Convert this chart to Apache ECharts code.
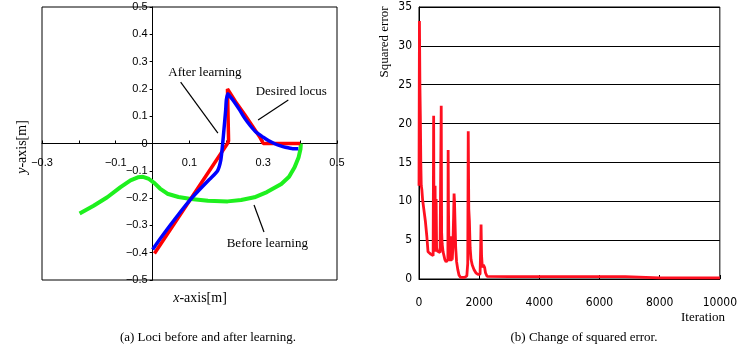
<!DOCTYPE html>
<html>
<head>
<meta charset="utf-8">
<script src="https://cdn.jsdelivr.net/npm/echarts@6/dist/echarts.min.js"></script>
<style>
html,body{margin:0;padding:0;background:#fff;}
#c{width:740px;height:351px;}
</style>
</head>
<body>
<div id="c"></div>
<script>
// ---- Left chart: loci (x, y in metres) ----
const desiredX = [0.005, 0.203, 0.206, 0.203, 0.225, 0.25, 0.275, 0.29, 0.3, 0.4];
const desiredY = [-0.403, 0, 0.01, 0.2, 0.153, 0.105, 0.055, 0.025, 0, 0];

const afterX = [0, 0.02, 0.044, 0.07, 0.104, 0.13, 0.155, 0.176, 0.185, 0.19, 0.194, 0.198, 0.2, 0.204, 0.21, 0.22, 0.235, 0.25, 0.265, 0.28, 0.3, 0.315, 0.33, 0.345, 0.36, 0.38, 0.395];
const afterY = [-0.388, -0.35, -0.306, -0.26, -0.203, -0.165, -0.13, -0.1, -0.06, 0, 0.06, 0.12, 0.16, 0.182, 0.172, 0.155, 0.125, 0.092, 0.065, 0.042, 0.023, 0.01, 0, -0.008, -0.014, -0.019, -0.019];

const beforeX = [-0.198, -0.16, -0.123, -0.087, -0.06, -0.04, -0.026, -0.01, 0.005, 0.02, 0.04, 0.07, 0.104, 0.15, 0.2035, 0.24, 0.276, 0.31, 0.349, 0.37, 0.385, 0.396, 0.401, 0.402];
const beforeY = [-0.256, -0.228, -0.197, -0.16, -0.135, -0.124, -0.122, -0.13, -0.145, -0.165, -0.184, -0.196, -0.203, -0.21, -0.212, -0.207, -0.197, -0.178, -0.148, -0.122, -0.087, -0.05, -0.02, 0];

const leftXTicks = [-0.3, -0.1, 0.1, 0.3, 0.5];

// annotation texts and arrows (data coordinates)
const noteTexts = ['After learning', 'Desired locus', 'Before learning'];
const noteTextPos = [[0.142, 0.258], [0.376, 0.192], [0.311, -0.368]];
const noteArrowFrom = [[0.076, 0.225], [0.368, 0.159], [0.302, -0.324]];
const noteArrowTo = [[0.177, 0.038], [0.286, 0.086], [0.275, -0.225]];

// ---- Right chart: squared error vs iteration ----
const iterations = [0, 15, 30, 45, 60, 75, 95, 120, 160, 210, 260, 300, 340, 390, 440, 470, 487, 497, 515, 535, 548, 570, 585, 610, 650, 700, 720, 739, 752, 770, 800, 830, 860, 900, 940, 960, 969, 980, 1000, 1025, 1050, 1070, 1090, 1105, 1125, 1150, 1166, 1180, 1200, 1220, 1250, 1290, 1330, 1385, 1450, 1520, 1590, 1620, 1637, 1655, 1675, 1700, 1730, 1770, 1830, 1890, 1960, 2030, 2050, 2063, 2080, 2105, 2140, 2180, 2210, 2260, 2293, 3000, 4000, 5000, 6000, 6850, 6870, 8000, 10000];
const sqError = [12, 33.2, 25, 21, 15, 12, 11.5, 10.2, 9, 7.5, 5.5, 3.5, 3.3, 3.2, 3.0, 3.0, 21, 8, 4, 12, 3.5, 10.3, 4, 3.6, 3.5, 3.4, 3.5, 22.3, 6, 4.5, 3.5, 3.0, 2.5, 2.2, 2.0, 2.5, 16.6, 9, 3, 2.3, 5.5, 2.3, 5.5, 2.5, 4, 8, 11, 10, 7, 4, 2.2, 1.2, 0.5, 0.2, 0.15, 0.2, 0.4, 2, 19, 9, 7.5, 4, 2.5, 1.8, 1.2, 0.8, 0.6, 0.6, 4, 7, 3, 1.5, 1.8, 1.5, 0.8, 0.35, 0.3, 0.3, 0.3, 0.3, 0.3, 0.3, 0.15, 0.15, 0.15];

const SERIF = '"Liberation Serif", "Times New Roman", serif';
const SANS = '"Liberation Sans", Arial, sans-serif';
const NARROW = '"DejaVu Sans Condensed", "Liberation Sans Narrow", "Arial Narrow", sans-serif';

const zip = (a, b) => a.map((v, i) => [v, b[i]]);
const fmtMinus = v => {
  const r = Math.round(v * 10) / 10;
  if (r === 0) return '0';
  return (r < 0 ? '\u2212' : '') + Math.abs(r).toFixed(1);
};

// left grid geometry
const LG = {left: 42, top: 7, width: 295, height: 273};
const LX = [-0.3, 0.5], LY = [-0.5, 0.5];
const xZeroOffset = -(LG.height * (0 - LY[0]) / (LY[1] - LY[0]));   // move x-axis up to y = 0
const yZeroOffset = -(LG.width * (0 - LX[0]) / (LX[1] - LX[0]));    // move y-axis right to x = 0

const chart = echarts.init(document.getElementById('c'), null, {renderer: 'canvas'});

const option = {
  backgroundColor: '#fff',
  animation: false,
  grid: [
    {left: LG.left, top: LG.top, width: LG.width, height: LG.height, show: true, borderColor: '#000', borderWidth: 1, backgroundColor: 'transparent'},
    {left: 419, top: 7, width: 305, height: 272, show: true, borderColor: '#000', borderWidth: 1, backgroundColor: 'transparent'}
  ],
  xAxis: [
    {
      type: 'value', gridIndex: 0, min: LX[0], max: LX[1], interval: 0.1,
      position: 'bottom', offset: xZeroOffset,
      axisLine: {onZero: false, lineStyle: {color: '#000', width: 1}},
      axisTick: {show: true, inside: true, length: 3, lineStyle: {color: '#000'}},
      splitLine: {show: false},
      axisLabel: {
        color: '#000', fontFamily: SANS, fontSize: 11, margin: 14,
        formatter: v => leftXTicks.some(t => Math.abs(t - v) < 1e-6) ? fmtMinus(v) : ''
      }
    },
    {
      type: 'value', gridIndex: 1, min: 0, max: 10000, interval: 2000,
      axisLine: {lineStyle: {color: '#000', width: 1}},
      axisTick: {show: true, inside: true, length: 4, lineStyle: {color: '#000'}},
      splitLine: {show: false},
      axisLabel: {color: '#000', fontFamily: NARROW, fontSize: 12, margin: 18, formatter: v => String(v)}
    }
  ],
  yAxis: [
    {
      type: 'value', gridIndex: 0, min: LY[0], max: LY[1], interval: 0.1,
      position: 'left', offset: yZeroOffset,
      axisLine: {onZero: false, lineStyle: {color: '#000', width: 1}},
      axisTick: {show: true, inside: false, length: 3, lineStyle: {color: '#000'}},
      splitLine: {show: false},
      axisLabel: {color: '#000', fontFamily: SANS, fontSize: 11, margin: 5, formatter: fmtMinus}
    },
    {
      type: 'value', gridIndex: 1, min: 0, max: 35, interval: 5,
      axisLine: {show: true, lineStyle: {color: '#000', width: 1}},
      axisTick: {show: false},
      splitLine: {show: true, lineStyle: {color: '#000', width: 1}},
      axisLabel: {color: '#000', fontFamily: NARROW, fontSize: 12, margin: 7, formatter: v => String(v)}
    }
  ],
  series: [
    {
      name: 'Before learning', type: 'line', xAxisIndex: 0, yAxisIndex: 0,
      data: zip(beforeX, beforeY), symbol: 'none', smooth: false,
      lineStyle: {color: '#1ef01e', width: 4}, z: 2
    },
    {
      name: 'Desired locus', type: 'line', xAxisIndex: 0, yAxisIndex: 0,
      data: zip(desiredX, desiredY), symbol: 'none',
      lineStyle: {color: '#ff0000', width: 3.5}, z: 3
    },
    {
      name: 'After learning', type: 'line', xAxisIndex: 0, yAxisIndex: 0,
      data: zip(afterX, afterY), symbol: 'none', smooth: 0.2,
      lineStyle: {color: '#0000ff', width: 3.5}, z: 4,
      markLine: {
        silent: true, animation: false,
        symbol: ['none', 'arrow'], symbolSize: [0, 9],
        lineStyle: {color: '#000', width: 1.2, type: 'solid'},
        label: {show: false},
        data: noteArrowFrom.map((f, i) => [{coord: f}, {coord: noteArrowTo[i]}])
      },
      markPoint: {
        silent: true, animation: false,
        symbol: 'circle', symbolSize: 1,
        itemStyle: {color: 'rgba(0,0,0,0)'},
        label: {show: true, position: 'inside', color: '#000', fontFamily: SERIF, fontSize: 13, formatter: p => p.name},
        data: noteTexts.map((t, i) => ({name: t, coord: noteTextPos[i]}))
      }
    },
    {
      name: 'Squared error', type: 'line', xAxisIndex: 1, yAxisIndex: 1,
      data: zip(iterations, sqError), symbol: 'none',
      lineStyle: {color: '#ff1020', width: 2.8}, z: 3
    }
  ],
  graphic: [
    {type: 'text', x: 22, y: 147, rotation: Math.PI / 2,
     style: {rich: {i: {fontStyle: 'italic', fontFamily: SERIF, fontSize: 14}, n: {fontFamily: SERIF, fontSize: 14}},
             text: '{i|y}{n|-axis[m]}', align: 'center', verticalAlign: 'middle', fill: '#000'}},
    {type: 'text', x: 200, y: 298,
     style: {rich: {i: {fontStyle: 'italic', fontFamily: SERIF, fontSize: 14}, n: {fontFamily: SERIF, fontSize: 14}},
             text: '{i|x}{n|-axis[m]}', align: 'center', verticalAlign: 'middle', fill: '#000'}},
    {type: 'text', x: 385, y: 42, rotation: Math.PI / 2,
     style: {text: 'Squared error', font: '13px ' + SERIF, align: 'center', verticalAlign: 'middle', fill: '#000'}},
    {type: 'text', x: 703, y: 318,
     style: {text: 'Iteration', font: '13px ' + SERIF, align: 'center', verticalAlign: 'middle', fill: '#000'}},
    {type: 'text', x: 208, y: 338,
     style: {text: '(a) Loci before and after learning.', font: '13px ' + SERIF, align: 'center', verticalAlign: 'middle', fill: '#000'}},
    {type: 'text', x: 584, y: 338,
     style: {text: '(b) Change of squared error.', font: '13px ' + SERIF, align: 'center', verticalAlign: 'middle', fill: '#000'}}
  ]
};
chart.setOption(option);
</script>
</body>
</html>
